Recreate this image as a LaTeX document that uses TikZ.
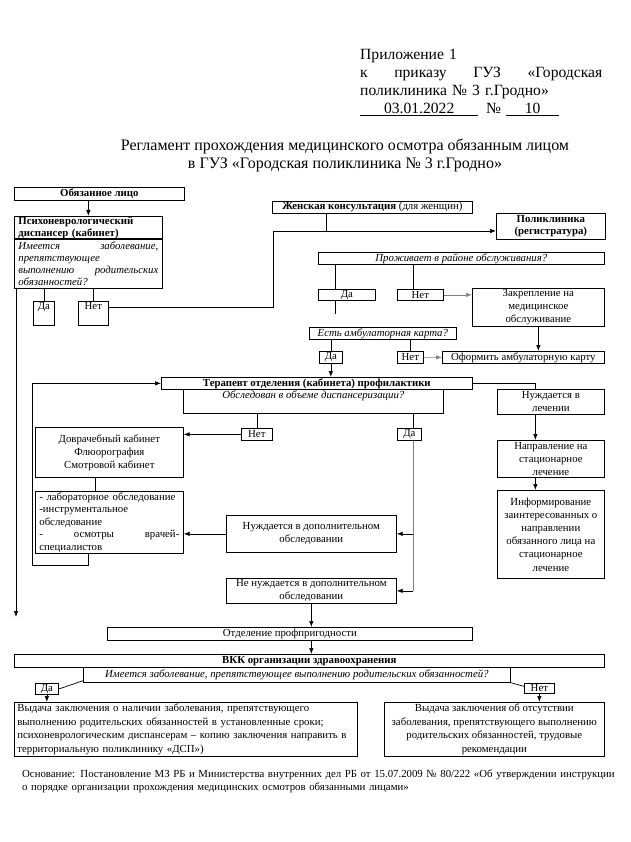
\documentclass[tikz,border=0pt]{standalone}
\usepackage{fontspec}
\setmainfont{Liberation Serif}
\usetikzlibrary{arrows.meta}

\begin{document}
\begin{tikzpicture}[x=1pt,y=-1pt,
  font=\fontsize{10.8}{13}\selectfont,
  box/.style={draw,line width=.7pt,inner sep=1pt,anchor=north west},
  arr/.style={-{Latex[length=6pt,width=4.5pt]}},
  ln/.style={line width=.7pt}]
\useasboundingbox (0,0) rectangle (630,842);

\node[anchor=north west,inner sep=0pt,text width=242pt,align=left,font=\fontsize{15.6}{18}\selectfont] (pril) at (360,49) {Приложение 1\\к\hfill приказу\hfill ГУЗ\hfill «Городская\\поликлиника № 3 г.Гродно»\\\underline{\makebox[118pt]{03.01.2022}}\hspace{8pt}№\hspace{5pt}\underline{\makebox[53pt]{10}}};
\node[align=center,font=\fontsize{16}{18}\selectfont] (title) at (345,155) {Регламент прохождения медицинского осмотра обязанным лицом\\в ГУЗ «Городская поликлиника № 3 г.Гродно»};

\node[box,minimum width=170pt,minimum height=13pt] (obl) at (14,187) {\textbf{Обязанное лицо}};
\node[box,minimum width=148pt,minimum height=22pt,text width=140pt,align=left,font=\fontsize{10.8}{11.5}\selectfont\bfseries] (psyT) at (14,216) {Психоневрологический\\диспансер (кабинет)};
\node[box,minimum width=148pt,minimum height=50pt,text width=140pt,align=left,font=\fontsize{10.8}{12}\selectfont\itshape] (psyQ) at (14,238) {Имеется\hfill заболевание,\\препятствующее\\выполнению\hfill родительских\\обязанностей?};
\node[box,minimum width=21pt,text height=7.5pt,text depth=14.5pt] (da1) at (33,301) {Да};
\node[box,minimum width=30pt,text height=7.5pt,text depth=14.5pt] (net1) at (78,301) {Нет};

\node[box,minimum width=200pt,minimum height=12pt] (zhk) at (272,201) {\textbf{Женская консультация} (для женщин)};
\node[box,minimum width=109pt,minimum height=26pt,align=center,font=\fontsize{10.8}{12}\selectfont\bfseries] (polik) at (496,213) {Поликлиника\\(регистратура)};
\node[box,minimum width=286pt,minimum height=11pt,font=\fontsize{10.8}{13}\selectfont\itshape] (prozh) at (318,252) {Проживает в районе обслуживания?};
\node[box,minimum width=57pt,minimum height=11pt] (da2) at (318,289) {Да};
\node[box,minimum width=46pt,minimum height=11pt] (net2) at (397,289) {Нет};
\node[box,minimum width=132pt,minimum height=38pt,align=center] (zakr) at (472,288) {Закрепление на\\медицинское\\обслуживание};
\node[box,minimum width=147pt,minimum height=12pt,font=\fontsize{10.8}{13}\selectfont\itshape] (amb) at (309,327) {Есть амбулаторная карта?};
\node[box,minimum width=23pt,minimum height=12pt] (da3) at (319,351) {Да};
\node[box,minimum width=26pt,minimum height=12pt] (net3) at (397,351) {Нет};
\node[box,minimum width=162pt,minimum height=12pt] (oform) at (442,351) {Оформить амбулаторную карту};

\node[box,minimum width=311pt,minimum height=12pt,font=\fontsize{10.8}{13}\selectfont\bfseries] (ter) at (161,377) {Терапевт отделения (кабинета) профилактики};
\node[box,minimum width=260pt,text height=8pt,text depth=14pt,font=\fontsize{10.8}{13}\selectfont\itshape] (terQ) at (183,389) {Обследован в объеме диспансеризации?};
\node[box,minimum width=31pt,minimum height=12pt] (net4) at (241,428) {Нет};
\node[box,minimum width=24pt,minimum height=12pt] (da4) at (397,428) {Да};
\node[box,minimum width=148pt,minimum height=50pt,align=center] (dovr) at (35,427) {Доврачебный кабинет\\Флюорография\\Смотровой кабинет};
\node[box,minimum width=148pt,minimum height=62pt,text width=140pt,align=left,font=\fontsize{10.8}{12.5}\selectfont] (lab) at (35,491) {- лабораторное обследование\\-инструментальное\\обследование\\-\hfill осмотры\hfill врачей-\\специалистов};
\node[box,minimum width=170pt,minimum height=37pt,align=center] (need) at (226,515) {Нуждается в дополнительном\\обследовании};
\node[box,minimum width=170pt,minimum height=25pt,align=center] (noneed) at (226,578) {Не нуждается в дополнительном\\обследовании};

\node[box,minimum width=107pt,minimum height=25pt,align=center] (lech) at (497,389) {Нуждается в\\лечении};
\node[box,minimum width=107pt,minimum height=37pt,align=center] (napr) at (497,440) {Направление на\\стационарное\\лечение};
\node[box,minimum width=107pt,minimum height=88pt,align=center,font=\fontsize{10.8}{13.2}\selectfont] (inf) at (497,490) {Информирование\\заинтересованных о\\направлении\\обязанного лица на\\стационарное\\лечение};

\node[box,minimum width=365pt,minimum height=13pt] (otdel) at (107,627) {Отделение профпригодности};
\node[box,minimum width=590pt,minimum height=13pt,font=\fontsize{10.8}{13}\selectfont\bfseries] (vkk) at (14,654) {ВКК организации здравоохранения};
\node[box,minimum width=427pt,minimum height=15pt,font=\fontsize{10.8}{13}\selectfont\itshape] (vkkQ) at (83,667) {Имеется заболевание, препятствующее выполнению родительских обязанностей?};
\node[box,minimum width=23pt,minimum height=10pt] (da5) at (35,683) {Да};
\node[box,minimum width=30pt,minimum height=10pt] (net5) at (524,683) {Нет};
\node[box,minimum width=343pt,minimum height=54pt,text width=337pt,align=left,font=\fontsize{10.8}{13.5}\selectfont] (resL) at (14,702) {\makebox[337pt][s]{Выдача заключения о наличии заболевания, препятствующего}\\выполнению родительских обязанностей в установленные сроки;\\\makebox[337pt][s]{психоневрологическим диспансерам – копию заключения направить в}\\территориальную поликлинику «ДСП»)};
\node[box,minimum width=220pt,minimum height=54pt,align=center,font=\fontsize{10.8}{13.5}\selectfont] (resR) at (384,702) {Выдача заключения об отсутствии\\заболевания, препятствующего выполнению\\родительских обязанностей, трудовые\\рекомендации};
\node[anchor=north west,inner sep=0pt,text width=582pt,align=left] (osn) at (22,770) {\makebox[582pt][s]{Основание: Постановление МЗ РБ и Министерства внутренних дел РБ от 15.07.2009 № 80/222 «Об утверждении инструкции}\\о порядке организации прохождения медицинских осмотров обязанными лицами»};

\coordinate (j1) at (273,231);
\coordinate (j2) at (326,231);
\coordinate (lend) at (16,617);
\coordinate (loop) at (32,565);

\draw[ln,arr] (obl.south -| psyT.north) -- (psyT.north);
\draw[ln] (psyQ.south -| da1.north) -- (da1.north);
\draw[ln] (psyQ.south -| net1.north) -- (net1.north);
\draw[ln] ([yshift=6pt]net1.east) -| (j1);
\draw[ln] (zhk.south -| j2) -- (j2);
\draw[ln,arr] (j1) -- (j1 -| polik.west);
\draw[ln,arr] (psyQ.south west -| lend) -- (lend);
\draw[ln] ([xshift=-11.5pt]da2.north |- prozh.south) -- ([xshift=-11.5pt]da2.north);
\draw[ln] ([xshift=-7pt]net2.north |- prozh.south) -- ([xshift=-7pt]net2.north);
\draw[ln] ([xshift=-11.5pt]da2.south) -- ++(0,13);
\draw[ln,arr,gray] (net2.east) -- (net2.east -| zakr.west);
\draw[ln,arr] (zakr.south) -- (zakr.south |- oform.north);
\draw[ln] (da3.north |- amb.south) -- (da3.north);
\draw[ln] (net3.north |- amb.south) -- (net3.north);
\draw[ln,arr,gray] (net3.east) -- (oform.west);
\draw[ln,arr] (da3.south) -- (da3.south |- ter.north);
\draw[ln] (ter.east) -| ([xshift=-15.5pt]lech.north);
\draw[ln,arr] ([xshift=-15.5pt]lech.south) -- ([xshift=-15.5pt]napr.north);
\draw[ln,arr] ([xshift=-15.5pt]napr.south) -- ([xshift=-15.5pt]inf.north);
\draw[ln] (net4.north |- terQ.south) -- (net4.north);
\draw[ln] ([xshift=4pt]da4.north |- terQ.south) -- ([xshift=4pt]da4.north);
\draw[ln,arr] (net4.west) -- (net4.west -| dovr.east);
\draw[ln,gray] ([xshift=4pt]da4.south) -- ([xshift=4pt]da4.south |- noneed.east);
\draw[ln,arr] ([xshift=4pt]da4.south |- need.east) -- (need.east);
\draw[ln,arr] ([xshift=4pt]da4.south |- noneed.east) -- (noneed.east);
\draw[ln,arr] (need.west) -- (need.west -| lab.east);
\draw[ln] ([xshift=-14pt]dovr.south) -- ([xshift=-14pt]lab.north);
\draw[ln,arr] ([xshift=-21pt]lab.south) |- (loop) |- (ter.west);
\draw[ln,arr] (noneed.south) -- (noneed.south |- otdel.north);
\draw[ln,arr] (otdel.south -| noneed.south) -- (vkk.north -| noneed.south);
\draw[ln] (da5.east) -- ([yshift=2pt]vkkQ.south west);
\draw[ln] (vkkQ.south east) -- ([yshift=2pt]net5.west);
\draw[ln,arr] (da5.south) -- (da5.south |- resL.north);
\draw[ln,arr] (net5.south) -- (net5.south |- resR.north);
\end{tikzpicture}
\end{document}
